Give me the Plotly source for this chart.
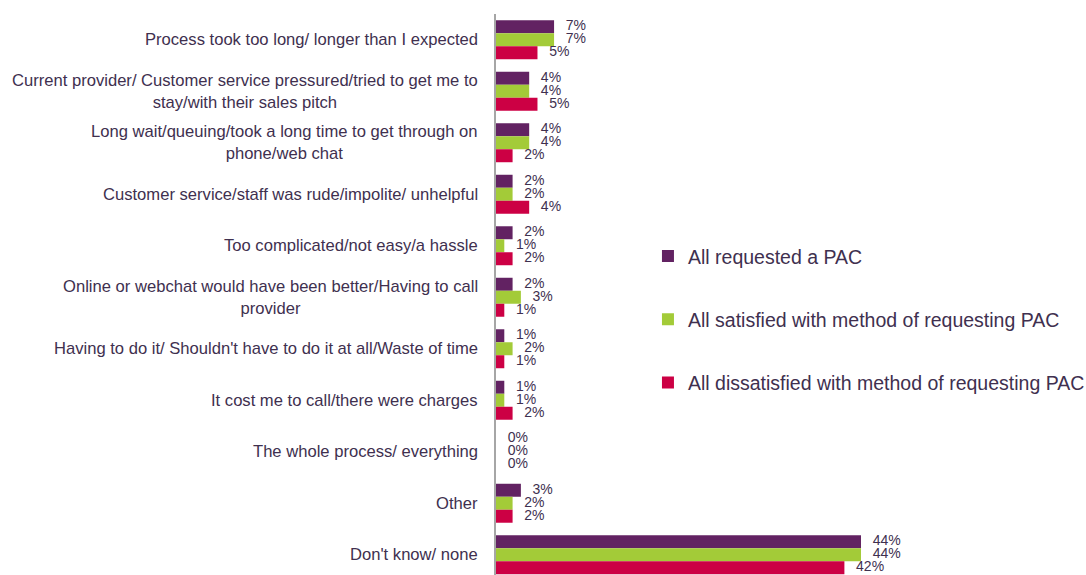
import plotly.graph_objects as go

categories = [
    "Process took too long/ longer than I expected",
    "Current provider/ Customer service pressured/tried to get me to<br>stay/with their sales pitch",
    "Long wait/queuing/took a long time to get through on<br>phone/web chat",
    "Customer service/staff was rude/impolite/ unhelpful",
    "Too complicated/not easy/a hassle",
    "Online or webchat would have been better/Having to call<br>provider",
    "Having to do it/ Shouldn't have to do it at all/Waste of time",
    "It cost me to call/there were charges",
    "The whole process/ everything",
    "Other",
    "Don't know/ none",
]
series_names = [
    "All requested a PAC",
    "All satisfied with method of requesting PAC",
    "All dissatisfied with method of requesting PAC",
]
requested = [7, 4, 4, 2, 2, 2, 1, 1, 0, 3, 44]
satisfied = [7, 4, 4, 2, 1, 3, 2, 1, 0, 2, 44]
dissatisfied = [5, 5, 2, 4, 2, 1, 1, 2, 0, 2, 42]
colors = ["#622262", "#A3CB38", "#CC0044"]

FONT = "Liberation Sans, Arial, sans-serif"
TXT = "#40304F"

series = [requested, satisfied, dissatisfied]
n = len(categories)
ypos = list(range(n))
bargap = 0.243
bw = (1 - bargap) / 3

fig = go.Figure()
for k, (name, vals, col) in enumerate(zip(series_names, series, colors)):
    fig.add_trace(go.Bar(
        x=vals, y=ypos, orientation="h", name=name,
        marker=dict(color=col, line=dict(width=0)),
        legendgroup=name,
    ))
for k, vals in enumerate(series):
    fig.add_trace(go.Scatter(
        x=vals, y=[i + (k - 1) * bw for i in ypos], mode="text",
        text=["\u00a0\u00a0\u00a0" + f"{v:.0f}%" for v in vals],
        textposition="middle right",
        textfont=dict(family=FONT, size=14, color=TXT),
        showlegend=False, hoverinfo="skip", cliponaxis=False,
    ))

for i, c in enumerate(categories):
    fig.add_annotation(
        x=0, xref="paper", y=i, yref="y", text=c, showarrow=False,
        xanchor="right", yanchor="middle", align="center", xshift=-16,
        font=dict(family=FONT, size=16.6, color=TXT),
    )

fig.update_layout(
    width=1086, height=575,
    margin=dict(l=496, r=10, t=14, b=0, autoexpand=False),
    paper_bgcolor="white", plot_bgcolor="white",
    barmode="group", bargap=bargap, bargroupgap=0,
    showlegend=True,
    legend=dict(
        x=0.262, y=0.603, xanchor="left", yanchor="top",
        font=dict(family=FONT, size=19.5, color=TXT),
        traceorder="grouped", tracegroupgap=35,
        bgcolor="rgba(0,0,0,0)",
    ),
    xaxis=dict(range=[0, 69.92], visible=False, showgrid=False, zeroline=False),
    yaxis=dict(range=[n - 1 + 0.5 + (561 / 51.5 - n), -0.5], showgrid=False,
               zeroline=False, showticklabels=False, ticks="",
               showline=True, linecolor="#A6A6A6", linewidth=1.5),
)

fig.write_html("out.html")
